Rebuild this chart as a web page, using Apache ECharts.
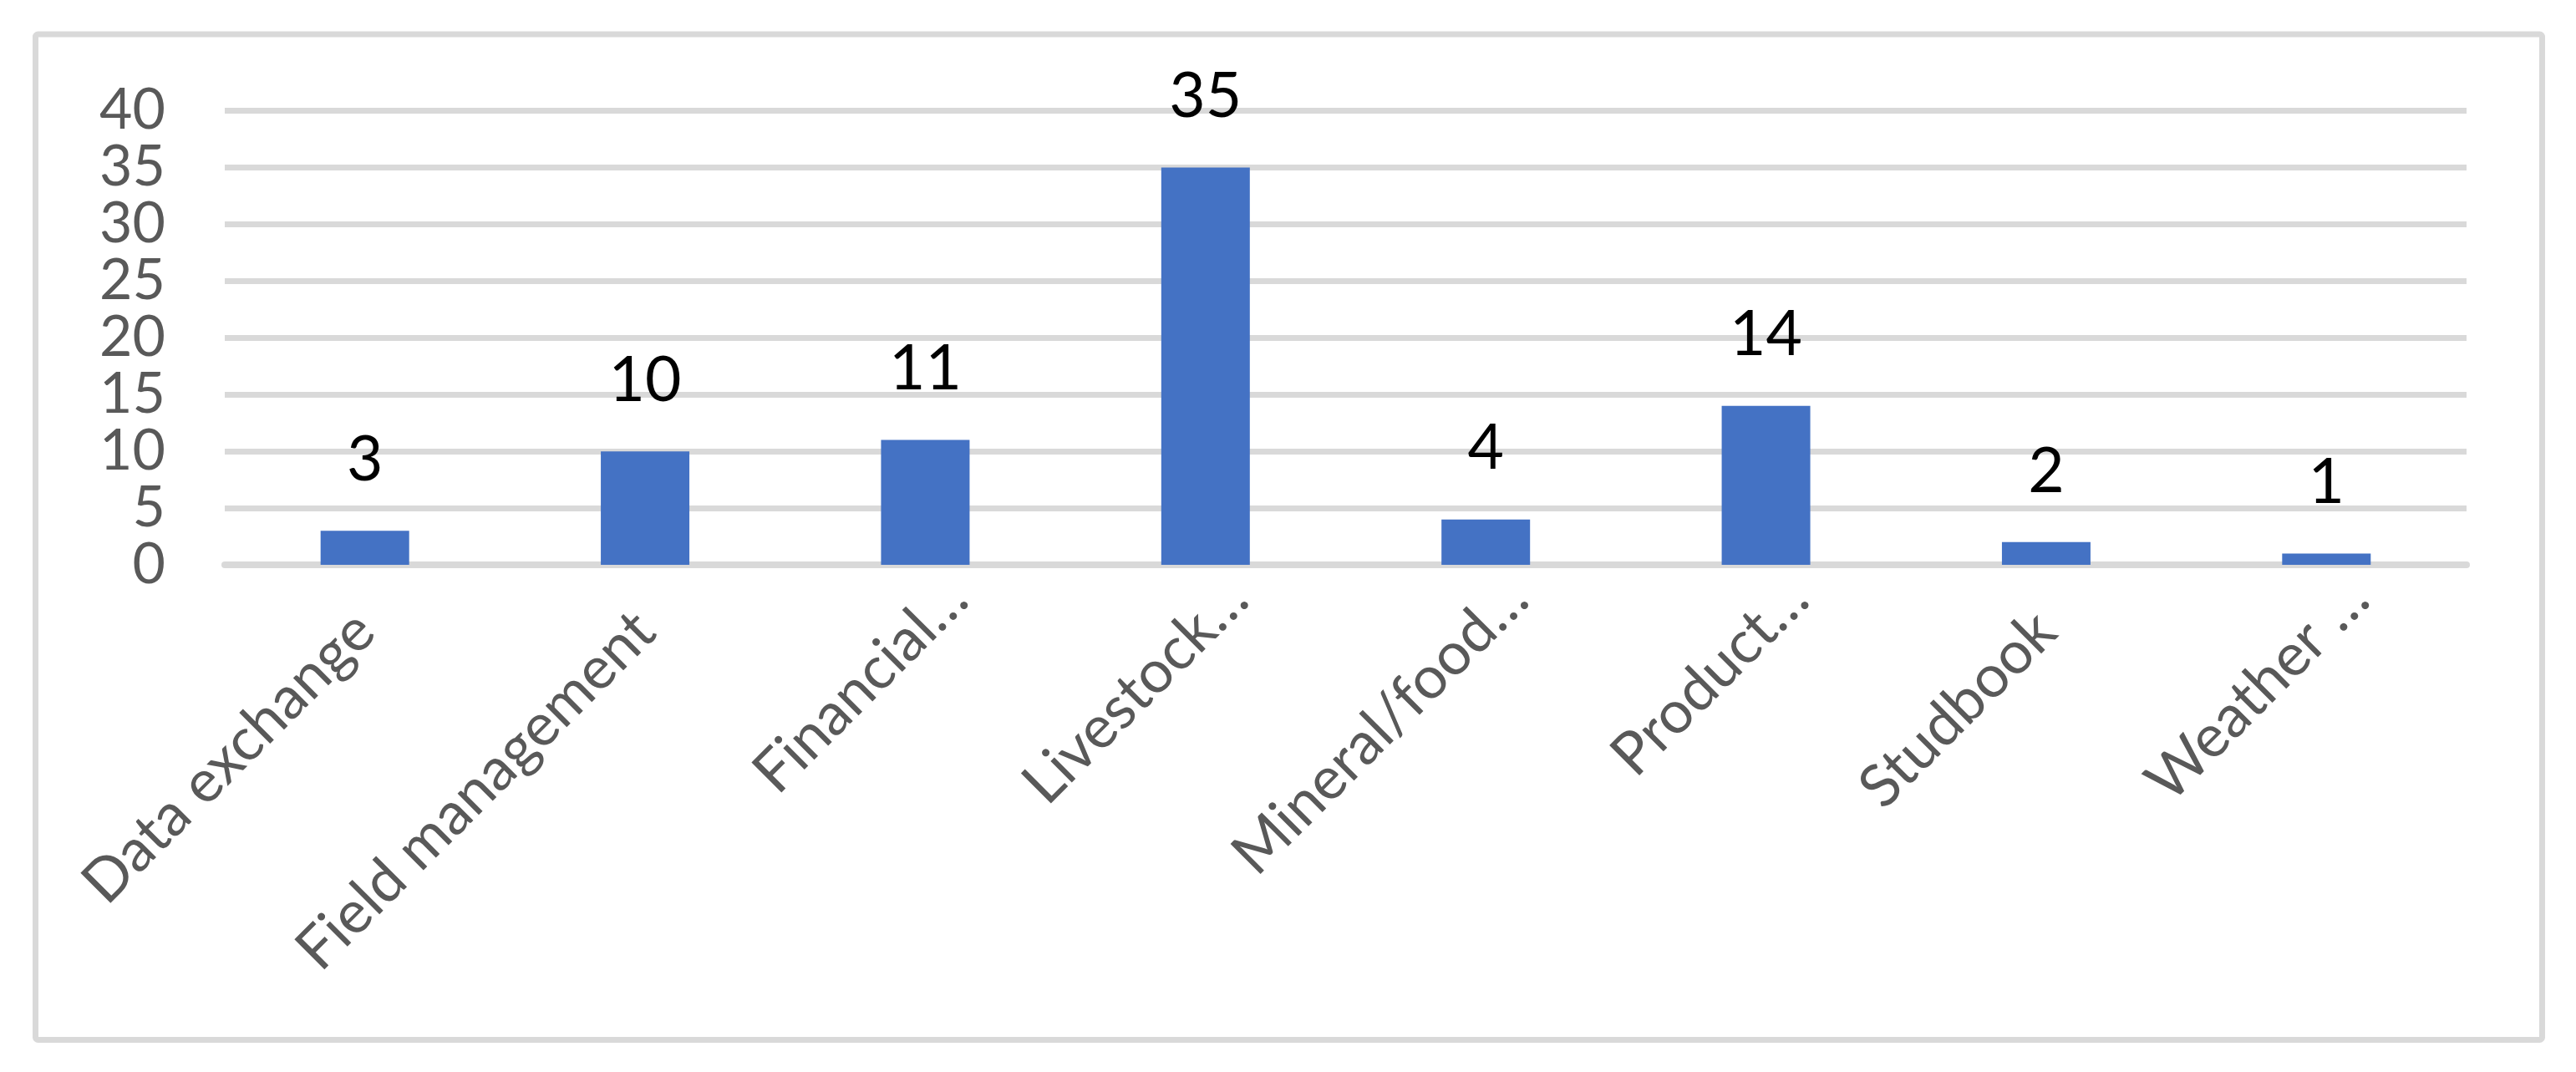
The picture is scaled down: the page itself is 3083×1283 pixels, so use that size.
<!DOCTYPE html>
<html lang="en">
  <head>
    <meta charset="UTF-8" />
    <title>Tools by category</title>
    <script src="https://cdn.jsdelivr.net/npm/echarts@6.0.0/dist/echarts.min.js"></script>
    <style>
      * {
        padding: 0;
        margin: 0;
      }
      body {
        background: #ffffff;
      }
      #main {
        width: 3083px;
        height: 1283px;
      }
    </style>
  </head>
  <body>
    <div id="main"></div>
    <script>
      // data
      var categories = [
        "Data exchange",
        "Field management",
        "Financial…",
        "Livestock…",
        "Mineral/food…",
        "Product…",
        "Studbook",
        "Weather …",
      ];
      var counts = [3, 10, 11, 35, 4, 14, 2, 1];
      var yTicks = [0, 5, 10, 15, 20, 25, 30, 35, 40];

      var fontFamily = "Lato, 'Open Sans', sans-serif";
      var gridColor = "#d9d9d9";
      var labelColor = "#595959";

      // excel pushes the cut-off labels (with an ellipsis) a bit further up the slant
      var xData = categories.map(function (name) {
        var cut = name.indexOf("…") >= 0;
        return {
          value: name,
          textStyle: { padding: cut ? [0, -55, 0, 0] : 0 },
        };
      });

      var myChart = echarts.init(document.getElementById("main"));
      var option = {
        backgroundColor: "#ffffff",
        animation: false,
        graphic: [
          {
            type: "rect",
            shape: { x: 42.5, y: 41, width: 3000, height: 1203.5, r: 3 },
            style: { fill: "none", stroke: gridColor, lineWidth: 7 },
            silent: true,
          },
        ],
        grid: {
          left: 269,
          right: 131,
          top: 132.5,
          bottom: 607,
          containLabel: false,
        },
        xAxis: {
          type: "category",
          data: xData,
          axisLine: {
            show: true,
            lineStyle: { color: gridColor, width: 8 },
          },
          axisTick: { show: false },
          axisLabel: {
            interval: 0,
            rotate: 45,
            margin: 68,
            color: labelColor,
            fontSize: 71,
            fontFamily: fontFamily,
          },
        },
        yAxis: {
          type: "value",
          min: yTicks[0],
          max: yTicks[yTicks.length - 1],
          interval: yTicks[1] - yTicks[0],
          axisLine: { show: false },
          axisTick: { show: false },
          axisLabel: {
            margin: 71,
            color: labelColor,
            fontSize: 68,
            fontFamily: fontFamily,
          },
          splitLine: {
            show: true,
            lineStyle: { color: gridColor, width: 7 },
          },
        },
        series: [
          {
            type: "bar",
            data: counts,
            barWidth: 106,
            itemStyle: { color: "#4472c4" },
            label: {
              show: true,
              position: "top",
              distance: 47,
              color: "#000000",
              fontSize: 75,
              fontFamily: fontFamily,
            },
          },
        ],
      };
      myChart.setOption(option);
    </script>
  </body>
</html>
